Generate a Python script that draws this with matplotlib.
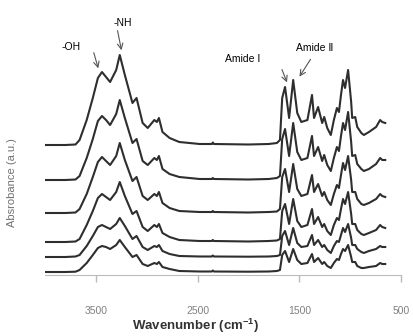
import matplotlib
matplotlib.use("Agg")
import matplotlib.pyplot as plt

plt.rcParams['font.family'] = ['Liberation Sans', 'DejaVu Sans']

# wavenumber grid (cm-1) shared by all spectra
wavenumber = [4000, 3800, 3700, 3660, 3590, 3530, 3480, 3440, 3400, 3360,
              3300, 3265, 3215, 3140, 3100, 3040, 2990, 2925, 2900, 2880,
              2845, 2775, 2680, 2480, 2360, 2350, 2340, 2000, 1800, 1720,
              1690, 1668, 1640, 1600, 1560, 1520, 1480, 1420, 1375, 1355,
              1315, 1275, 1255, 1225, 1190, 1160, 1130, 1110, 1090, 1070,
              1050, 1020, 990, 980, 950, 930, 890, 865, 815, 745,
              705, 685, 655]

# absorbance above each trace's own baseline (a.u. x 100), top trace first
spec1 = [0, 0, 0.5, 5, 25, 47, 67, 73, 68, 63, 75, 90, 70, 42, 47, 22, 17, 25, 23, 27,
         13, 7, 3, 1, 1, 2.5, 1, 0.5, 1, 2, 5, 47, 58, 27, 65, 32, 23, 25, 50, 27,
         38, 22, 28, 17, 10, 25, 37, 33, 50, 65, 57, 75, 43, 27, 28, 18, 12, 10, 13, 18,
         25, 23, 22]
spec2 = [0, 0, 0.5, 4, 22, 41, 59, 64, 60, 55, 66, 80, 62, 37, 41, 19, 15, 22, 20, 24,
         11, 6, 3, 1, 1, 2, 1, 0.5, 1, 2, 4, 41, 51, 24, 57, 28, 20, 22, 44, 24,
         33, 19, 25, 15, 9, 22, 33, 29, 44, 57, 50, 68, 38, 24, 25, 16, 11, 9, 11, 16,
         22, 20, 20]
spec3 = [0, 0, 0.5, 4, 19, 36, 51, 56, 52, 48, 57, 70, 53, 32, 36, 17, 13, 19, 17, 21,
         10, 5, 2, 1, 1, 2, 1, 0.5, 1, 1.5, 4, 36, 44, 21, 49, 24, 17, 19, 38, 21,
         29, 17, 21, 13, 8, 19, 28, 25, 38, 50, 43, 57, 33, 21, 21, 14, 9, 8, 10, 14,
         19, 17, 16]
spec4 = [0, 0, 0.5, 3, 17, 31, 44, 48, 45, 42, 50, 60, 46, 28, 31, 15, 11, 17, 15, 18,
         9, 5, 2, 1, 1, 2, 1, 0.5, 1, 1.5, 3, 31, 38, 18, 43, 21, 15, 17, 33, 18,
         25, 15, 18, 11, 7, 17, 24, 22, 33, 43, 38, 50, 28, 18, 18, 12, 8, 7, 9, 12,
         17, 15, 14]
spec5 = [0, 0, 0.5, 2, 11, 21, 30, 32, 30, 28, 33, 39, 31, 18, 21, 10, 7, 11, 10, 12,
         6, 3, 1, 0.5, 0.5, 1.5, 0.5, 0.3, 0.5, 1, 2, 21, 26, 12, 29, 14, 10, 11, 22, 12,
         17, 10, 12, 7, 4, 11, 16, 15, 22, 29, 25, 33, 19, 12, 12, 8, 5, 4, 6, 8,
         11, 10, 10]
spec6 = [0, 0, 0.3, 2, 9, 17, 24, 26, 25, 23, 27, 32, 25, 15, 17, 8, 6, 9, 8, 10,
         5, 3, 1, 0.5, 0.5, 1.5, 0.5, 0.3, 0.5, 1, 2, 17, 21, 10, 23, 12, 8, 9, 18, 10,
         14, 8, 10, 6, 4, 9, 13, 12, 18, 23, 21, 27, 15, 10, 10, 6, 4, 4, 5, 6,
         9, 8, 8]
spectra = [spec1, spec2, spec3, spec4, spec5, spec6]
baselines = [130, 95, 62, 33, 18, 3]

xticks = [3500, 2500, 1500, 500]

fig = plt.figure(figsize=(4.14, 3.36), dpi=100)
ax = fig.add_axes([45/414, 61/336, 356/414, 270/336])

for base, spec in zip(baselines, spectra):
    ax.plot(wavenumber, [(base + v) / 100 for v in spec], color='#2e2e2e', lw=1.5,
            solid_joinstyle='round')

ax.set_xlim(4000, 500)
ax.set_ylim(0, 2.70)
ax.set_xticks(xticks)
ax.set_xticklabels([str(t) for t in xticks])
ax.set_yticks([])
for s in ['top', 'right', 'left']:
    ax.spines[s].set_visible(False)
ax.spines['bottom'].set_color('#bbbbbb')
ax.tick_params(axis='x', colors='#bbbbbb', length=5, width=1, pad=17,
               labelcolor='#808080', labelsize=7.5)

fig.text(196/414, 1 - 326/336, 'Wavenumber (cm$^{\\mathregular{-1}}$)', ha='center',
         va='center', fontsize=9.5, fontweight='bold', color='#333333')
fig.text(12/414, 1 - 183/336, 'Absrobance (a.u.)', ha='center', va='center',
         rotation=90, fontsize=8, color='#707070')

arrow = dict(arrowstyle='->', color='#555555', lw=0.8)
ax.text(3744, 2.28, '-OH', fontsize=7.5, ha='center', va='center')
ax.annotate('', xy=(3469, 2.04), xytext=(3528, 2.25), arrowprops=arrow)
ax.text(3233, 2.52, '-NH', fontsize=7.5, ha='center', va='center')
ax.annotate('', xy=(3243, 2.22), xytext=(3292, 2.47), arrowprops=arrow)
ax.text(2053, 2.16, 'Amide Ⅰ', fontsize=7.5, ha='center', va='center')
ax.annotate('', xy=(1611, 1.90), xytext=(1680, 2.08), arrowprops=arrow)
ax.text(1346, 2.27, 'Amide Ⅱ', fontsize=7.5, ha='center', va='center')
ax.annotate('', xy=(1513, 1.96), xytext=(1375, 2.18), arrowprops=arrow)

fig.savefig('out.png', dpi=100)
